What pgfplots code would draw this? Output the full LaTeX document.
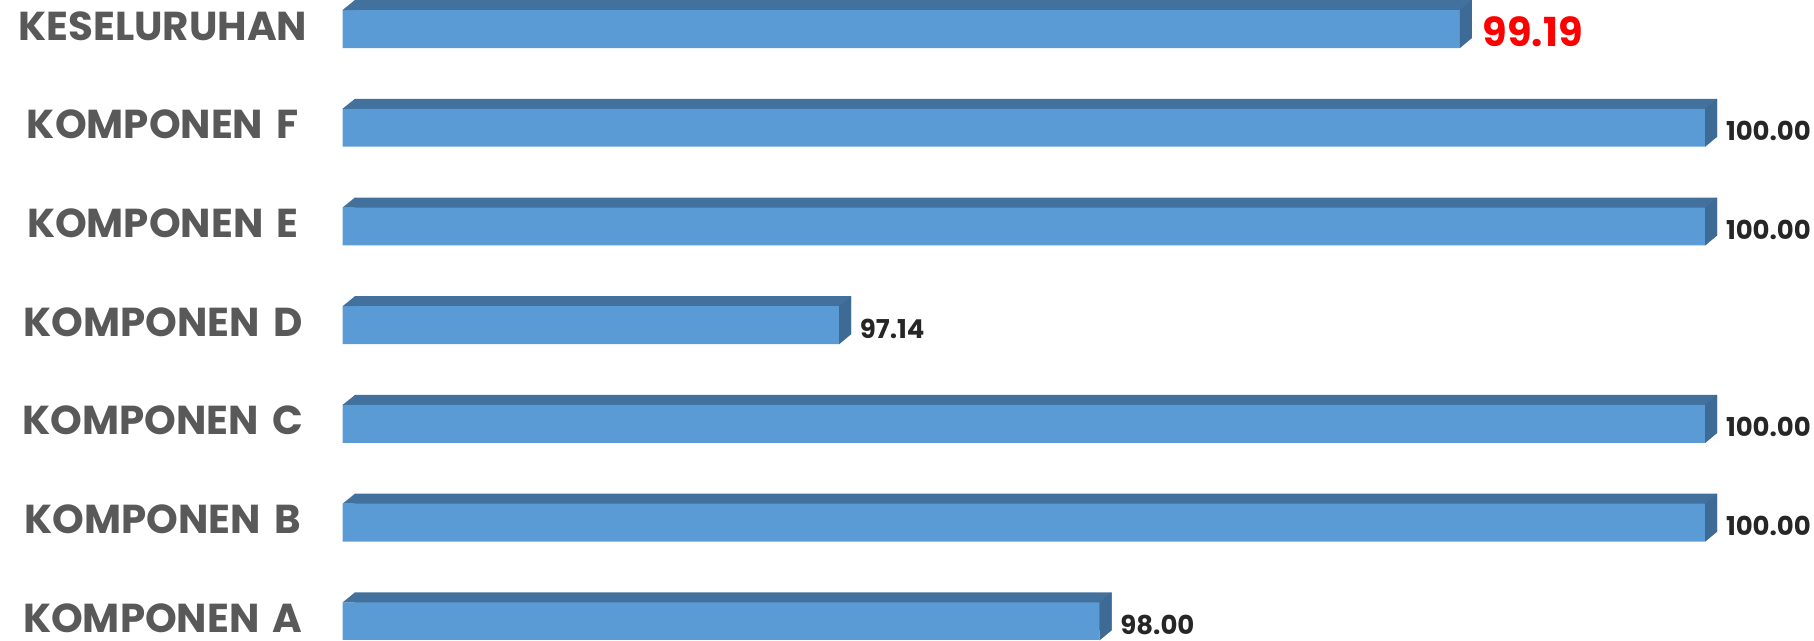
\documentclass[border=0pt]{standalone}
\usepackage{fontspec}
\setmainfont{Poppins}
\usepackage{pgfplots}
\usepackage{pgfplotstable}
\pgfplotsset{compat=1.18}

\definecolor{barfront}{HTML}{5B9BD5}
\definecolor{bartop}{HTML}{41719C}
\definecolor{barside}{HTML}{3D6B96}
\definecolor{labelgray}{HTML}{595959}
\definecolor{valgray}{HTML}{262626}

% right face of a bar, drawn at the bar end
\pgfdeclareplotmark{sideface}{%
  \pgfpathmoveto{\pgfqpoint{0pt}{-4.75pt}}%
  \pgfpathlineto{\pgfqpoint{0pt}{4.75pt}}%
  \pgfpathlineto{\pgfqpoint{3pt}{7.25pt}}%
  \pgfpathlineto{\pgfqpoint{3pt}{-2.25pt}}%
  \pgfpathclose
  \pgfusepathqfill}
% slanted left end of the top face
\pgfdeclareplotmark{topcorner}{%
  \pgfpathmoveto{\pgfqpoint{0pt}{4.75pt}}%
  \pgfpathlineto{\pgfqpoint{3.1pt}{7.25pt}}%
  \pgfpathlineto{\pgfqpoint{3.1pt}{4.75pt}}%
  \pgfpathclose
  \pgfusepathqfill}

\pgfplotstableread{
pos value
0 98.00
1 100.00
2 100.00
3 97.14
4 100.00
5 100.00
6 99.19
}\allbars
\pgfplotstableread{
pos value
0 98.00
1 100.00
2 100.00
3 97.14
4 100.00
5 100.00
}\komponen
\pgfplotstableread{
pos value
6 99.19
}\total

\begin{document}
\begin{tikzpicture}
\begin{axis}[
    x=75.75pt, y=24.7pt,
    xmin=95.5, xmax=100.358,
    ymin=-0.182, ymax=6.294,
    axis line style={draw=none},
    xtick=\empty,
    ytick={0,...,6},
    yticklabels={KOMPONEN A,KOMPONEN B,KOMPONEN C,KOMPONEN D,KOMPONEN E,KOMPONEN F,KESELURUHAN},
    major tick length=0pt,
    yticklabel style={font=\bfseries\fontsize{10.1}{10.5}\selectfont, text=labelgray,
        anchor=east, inner sep=0pt, text width=81.5pt, align=center, xshift=-4pt, yshift=0.8pt},
    clip=true,
    /pgf/number format/.cd, fixed, fixed zerofill, precision=2, assume math mode=true,
]
% top face (back copy of each bar)
\addplot[xbar, bar width=9.5pt, draw=none, fill=bartop, xshift=3pt, yshift=2.5pt]
    table[x=value, y=pos] {\allbars};
% front face
\addplot[xbar, bar width=9.5pt, draw=none, fill=barfront]
    table[x=value, y=pos] {\allbars};
% left end of the top face
\addplot[only marks, mark=topcorner, mark options={fill=bartop, draw=none}]
    coordinates {(95.5,0) (95.5,1) (95.5,2) (95.5,3) (95.5,4) (95.5,5) (95.5,6)};
% right faces and value labels
\addplot[only marks, mark=sideface, mark options={fill=barside, draw=none},
    nodes near coords, point meta=x,
    every node near coord/.style={anchor=west, inner sep=0pt, xshift=5pt, yshift=-0.8pt,
        font=\bfseries\fontsize{6.5}{7}\selectfont, text=valgray}]
    table[x=value, y=pos] {\komponen};
\addplot[only marks, mark=sideface, mark options={fill=barside, draw=none},
    nodes near coords, point meta=x,
    every node near coord/.style={anchor=west, inner sep=0pt, xshift=5.5pt, yshift=-0.8pt,
        font=\bfseries\fontsize{10}{11}\selectfont, text=red}]
    table[x=value, y=pos] {\total};
\end{axis}
\end{tikzpicture}
\end{document}
